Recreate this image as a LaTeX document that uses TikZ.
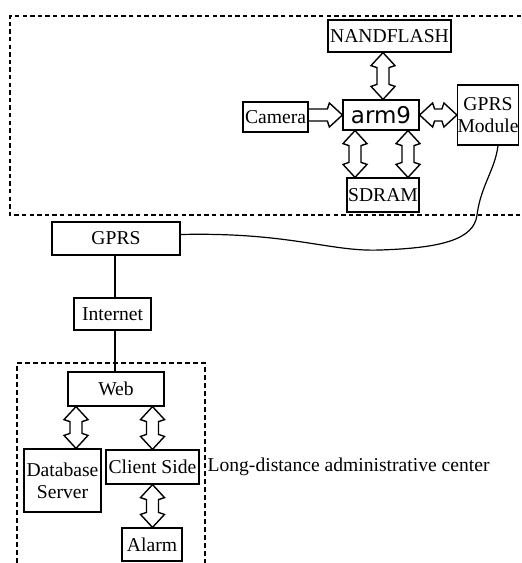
\documentclass[tikz,border=0pt]{standalone}
\usepackage{fontspec}
\setmainfont{Liberation Serif}
\newfontfamily\armfont{DejaVu Sans}
\usetikzlibrary{positioning,calc}

% hollow arrows between two points (head length, head half width, shaft half width)
\newcommand\dblarrow[2]{%
  \coordinate (s) at #1; \coordinate (e) at #2;
  \draw[hollowline] (s) -- ($(s)!6.5pt!(e)!6pt!90:(e)$) -- ($(s)!7.5pt!(e)!3pt!90:(e)$)
    -- ($(e)!7.5pt!(s)!3pt!-90:(s)$) -- ($(e)!6.5pt!(s)!6pt!-90:(s)$) -- (e)
    -- ($(e)!6.5pt!(s)!6pt!90:(s)$) -- ($(e)!7.5pt!(s)!3pt!90:(s)$)
    -- ($(s)!7.5pt!(e)!3pt!-90:(e)$) -- ($(s)!6.5pt!(e)!6pt!-90:(e)$) -- cycle;}
\newcommand\onearrow[2]{%
  \coordinate (s) at #1; \coordinate (e) at #2;
  \draw[hollowline] ($(s)!3pt!90:(e)$)
    -- ($(e)!7.5pt!(s)!3pt!-90:(s)$) -- ($(e)!6.5pt!(s)!6pt!-90:(s)$) -- (e)
    -- ($(e)!6.5pt!(s)!6pt!90:(s)$) -- ($(e)!7.5pt!(s)!3pt!90:(s)$)
    -- ($(s)!3pt!-90:(e)$);}

\begin{document}
\begin{tikzpicture}[x=0.5pt,y=-0.5pt,line width=0.6pt,
  every node/.style={draw,inner sep=0pt,align=center,font=\fontsize{9.8}{11}\selectfont},
  hollowline/.style={line width=0.7pt,line join=miter}]
\useasboundingbox (0,0) rectangle (521,563);

% boards
\draw[dash pattern=on 2.2pt off 1.6pt] (521,16) -- (10,16) -- (10,215) -- (521,215);
\draw[line width=1pt,dash pattern=on 2.5pt off 1.5pt] (17,563) -- (17,363) -- (205,363) -- (205,563);

% terminal side
\node[minimum width=61.5pt,minimum height=16pt] (nand) at (389.5,36) {NANDFLASH};
\node[minimum width=38pt,minimum height=15pt,font=\armfont\fontsize{11.5}{12}\selectfont] (arm) at (381,115) {arm9};
\node[minimum width=32.5pt,minimum height=15pt] (cam) at (275.5,117) {Camera};
\node[minimum width=30pt,minimum height=30pt] (gmod) at (488,115) {GPRS\\Module};
\node[minimum width=36pt,minimum height=17pt] (sdram) at (383,195) {SDRAM};

\dblarrow{([xshift=-3.25pt]nand.south)}{([xshift=-3.25pt]nand.south |- arm.north)}
\onearrow{(cam.east |- arm.west)}{(arm.west)}
\dblarrow{(arm.east)}{(arm.east -| gmod.west)}
\dblarrow{([xshift=-13pt]arm.south)}{([xshift=-13pt]arm.south |- sdram.north)}
\dblarrow{([xshift=13.5pt]arm.south)}{([xshift=13.5pt]arm.south |- sdram.north)}

% network
\node[minimum width=64pt,minimum height=16.5pt] (gprs) at (116,238.5) {GPRS};
\node[minimum width=38.5pt,minimum height=16pt] (net) at (112.5,314) {Internet};
\draw ([yshift=2pt]gprs.east) .. controls (290,232) and (330,252) .. (380,250)
  .. controls (440,248) and (474,240) .. (477,215)
  .. controls (481,185) and (495,170) .. ([xshift=5pt]gmod.south);
\draw ([xshift=-0.5pt]gprs.south) -- ([xshift=-0.5pt]gprs.south |- net.north);

% center
\node[minimum width=48pt,minimum height=17pt] (web) at (116,389) {Web};
\node[minimum width=38.5pt,minimum height=31.5pt] (db) at (62.5,480.5) {Database\\Server};
\node[minimum width=46.5pt,minimum height=17pt] (client) at (152.5,467) {Client Side};
\node[minimum width=30pt,minimum height=16.5pt] (alarm) at (152,544.5) {Alarm};
\draw ([xshift=-0.5pt]gprs.south |- net.south) -- ([xshift=-0.5pt]gprs.south |- web.north);

\dblarrow{([xshift=6.75pt]web.south -| db.north)}{([xshift=6.75pt]db.north)}
\dblarrow{(web.south -| client.north)}{(client.north)}
\dblarrow{(client.south)}{(alarm.north -| client.south)}

\node[draw=none,anchor=west] (lbl) at (207,467) {Long-distance administrative center};
\end{tikzpicture}
\end{document}
